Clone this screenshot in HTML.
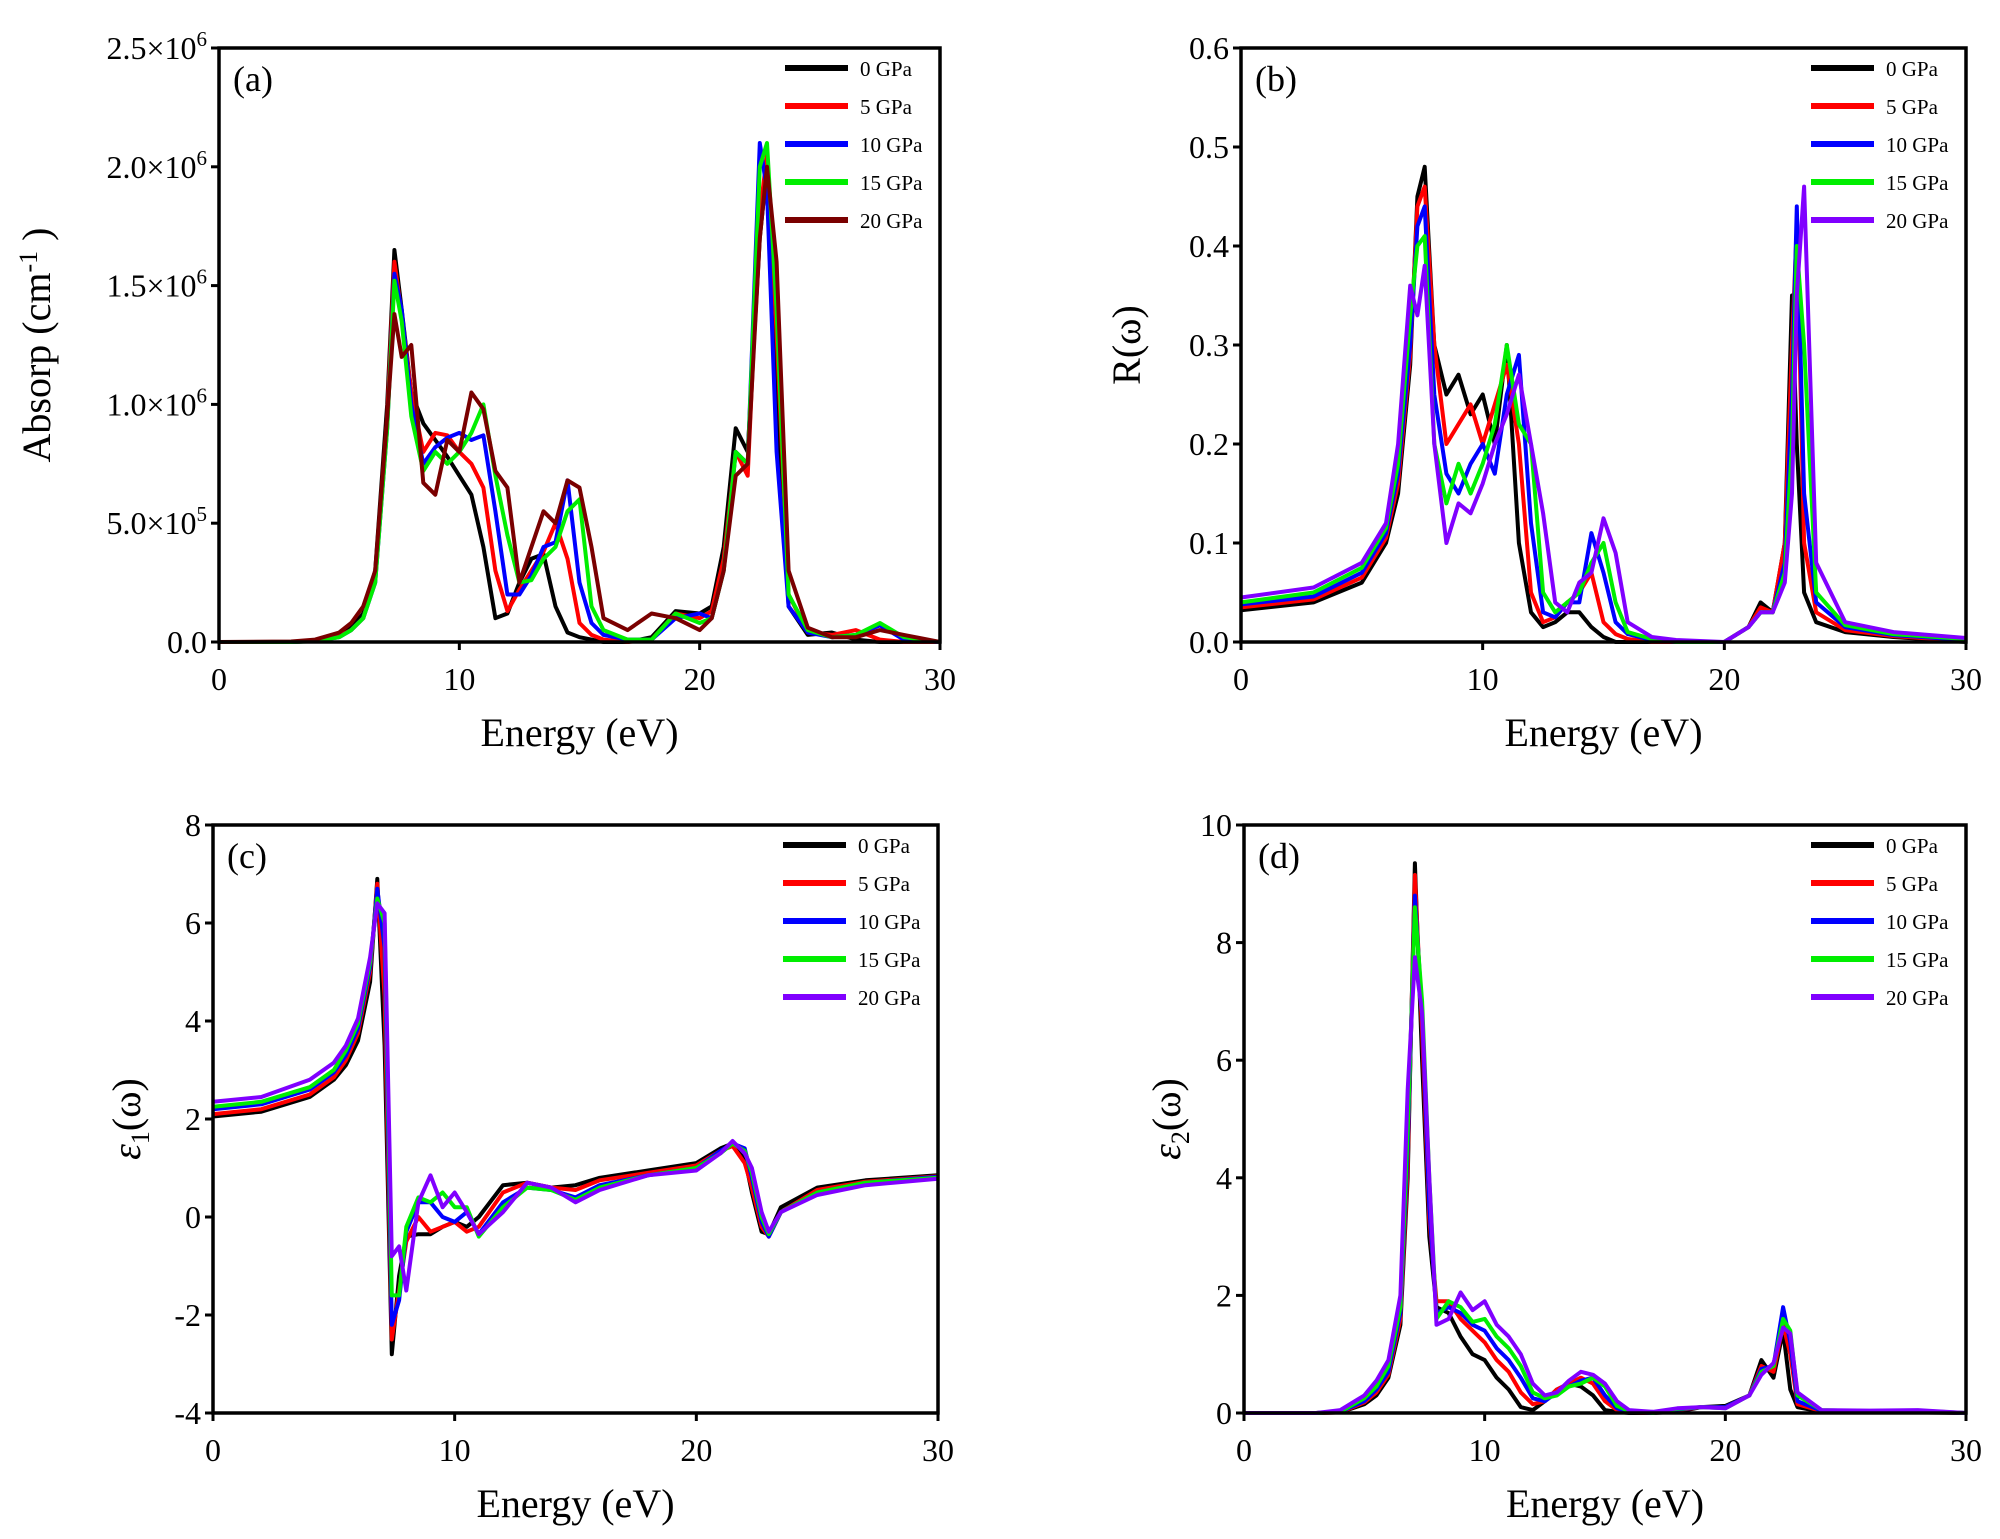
<!DOCTYPE html>
<html><head><meta charset="utf-8">
<style>
body{margin:0;background:#fff;}
svg{display:block;font-family:"Liberation Serif",serif;}
</style></head>
<body>
<svg id="fig" width="2000" height="1539" viewBox="0 0 2000 1539" xmlns="http://www.w3.org/2000/svg"></svg>
<script>
// ---- shared data ----
const legendA = ["0 GPa","5 GPa","10 GPa","15 GPa","20 GPa"];
const colorsA = ["#000000","#ff0000","#0000ff","#00ee00","#7a0000"];
const colorsB = ["#000000","#ff0000","#0000ff","#00ee00","#8000ff"];
const xTicks = [0,10,20,30];

// (a) absorption, units of 1e6 cm^-1
const energyA = [0,3,4,5,5.5,6,6.5,7,7.3,7.6,8,8.5,9,9.5,10,10.5,11,11.5,12,12.5,13,13.5,14,14.5,15,15.5,16,17,18,19,20,20.5,21,21.5,22,22.5,22.8,23.2,23.7,24.5,25.5,26.5,27.5,28.5,30];
const absorp0  = [0,0,0.005,0.03,0.06,0.12,0.3,1.0,1.65,1.4,1.05,0.92,0.85,0.78,0.7,0.62,0.4,0.1,0.12,0.25,0.35,0.37,0.15,0.04,0.02,0.01,0,0,0.02,0.13,0.12,0.15,0.4,0.9,0.8,1.7,2.0,1.0,0.15,0.03,0.04,0.01,0,0,0];
const absorp5  = [0,0,0.004,0.025,0.05,0.1,0.27,0.95,1.6,1.38,1.05,0.8,0.88,0.87,0.8,0.75,0.65,0.3,0.13,0.22,0.3,0.38,0.5,0.35,0.08,0.03,0.01,0,0.01,0.12,0.1,0.13,0.35,0.8,0.7,1.8,2.05,1.3,0.2,0.04,0.03,0.05,0.01,0,0];
const absorp10 = [0,0,0.004,0.02,0.05,0.1,0.25,0.9,1.55,1.4,1.0,0.75,0.82,0.86,0.88,0.85,0.87,0.55,0.2,0.2,0.28,0.4,0.42,0.68,0.25,0.08,0.03,0.01,0.01,0.1,0.12,0.1,0.3,0.8,0.75,2.1,1.9,0.8,0.15,0.04,0.02,0.03,0.07,0.01,0];
const absorp15 = [0,0,0.003,0.02,0.05,0.1,0.25,0.9,1.52,1.35,0.95,0.72,0.8,0.75,0.8,0.88,1.0,0.7,0.45,0.25,0.26,0.35,0.4,0.55,0.6,0.15,0.05,0.01,0.01,0.12,0.08,0.1,0.3,0.8,0.75,2.0,2.1,1.4,0.2,0.05,0.02,0.03,0.08,0.02,0];
const absorp20 = [0,0.002,0.01,0.04,0.08,0.15,0.3,0.95,1.38,1.2,1.25,0.67,0.62,0.85,0.8,1.05,0.98,0.72,0.65,0.25,0.4,0.55,0.5,0.68,0.65,0.4,0.1,0.05,0.12,0.1,0.05,0.1,0.3,0.7,0.75,1.7,2.0,1.6,0.3,0.06,0.02,0.02,0.05,0.03,0];

// (b) reflectivity
const energyB = [0,3,5,6,6.5,7,7.3,7.6,8,8.5,9,9.5,10,10.5,11,11.5,12,12.5,13,13.5,14,14.5,15,15.5,16,17,18,20,21,21.5,22,22.5,22.8,23,23.3,23.8,25,27,30];
const refl0  = [0.032,0.04,0.06,0.1,0.15,0.28,0.45,0.48,0.3,0.25,0.27,0.23,0.25,0.2,0.3,0.1,0.03,0.015,0.02,0.03,0.03,0.015,0.005,0,0,0,0,0,0.015,0.04,0.03,0.1,0.35,0.2,0.05,0.02,0.01,0.005,0];
const refl5  = [0.035,0.043,0.065,0.105,0.16,0.29,0.44,0.46,0.3,0.2,0.22,0.24,0.2,0.24,0.28,0.2,0.05,0.02,0.025,0.04,0.05,0.07,0.02,0.008,0.003,0,0,0,0.015,0.035,0.03,0.1,0.3,0.42,0.1,0.03,0.012,0.006,0.001];
const refl10 = [0.038,0.046,0.07,0.11,0.17,0.3,0.42,0.44,0.25,0.17,0.15,0.18,0.2,0.17,0.25,0.29,0.12,0.03,0.025,0.04,0.04,0.11,0.07,0.02,0.008,0.002,0,0,0.015,0.03,0.03,0.08,0.25,0.44,0.15,0.04,0.015,0.007,0.002];
const refl15 = [0.04,0.05,0.075,0.115,0.18,0.33,0.4,0.41,0.2,0.14,0.18,0.15,0.18,0.22,0.3,0.22,0.2,0.05,0.03,0.04,0.05,0.08,0.1,0.04,0.01,0.003,0,0,0.015,0.03,0.03,0.07,0.2,0.4,0.3,0.05,0.017,0.008,0.003];
const refl20 = [0.045,0.055,0.08,0.12,0.2,0.36,0.33,0.38,0.2,0.1,0.14,0.13,0.16,0.2,0.23,0.27,0.2,0.13,0.04,0.03,0.06,0.07,0.125,0.09,0.02,0.005,0.002,0,0.015,0.03,0.03,0.06,0.15,0.35,0.46,0.08,0.02,0.01,0.004];

// (c) eps1
const energyC = [0,2,4,5,5.5,6,6.5,6.8,7.1,7.4,7.7,8,8.5,9,9.5,10,10.5,11,12,13,14,15,16,18,20,21,21.5,22,22.3,22.7,23,23.5,25,27,30];
const eps1_0  = [2.05,2.15,2.45,2.8,3.1,3.6,4.8,6.9,3.5,-2.8,-1.2,-0.4,-0.35,-0.35,-0.2,-0.1,-0.2,0,0.65,0.7,0.6,0.65,0.8,0.95,1.1,1.4,1.5,1.2,0.5,-0.3,-0.35,0.2,0.6,0.75,0.85];
const eps1_5  = [2.1,2.2,2.5,2.85,3.2,3.75,5,6.8,4.5,-2.5,-1.5,-0.5,0,-0.3,-0.2,-0.1,-0.3,-0.2,0.5,0.7,0.6,0.55,0.75,0.9,1.05,1.35,1.45,1.1,0.6,-0.2,-0.4,0.1,0.55,0.72,0.83];
const eps1_10 = [2.2,2.3,2.6,2.95,3.3,3.85,5.1,6.7,5.5,-2.2,-1.7,-0.3,0.3,0.3,0,-0.1,0.1,-0.35,0.3,0.6,0.55,0.4,0.65,0.85,1.0,1.35,1.5,1.4,0.8,-0.1,-0.4,0.1,0.5,0.7,0.82];
const eps1_15 = [2.25,2.35,2.65,3.0,3.4,3.95,5.2,6.5,6.0,-1.6,-1.6,-0.2,0.4,0.3,0.5,0.2,0.2,-0.4,0.2,0.6,0.55,0.35,0.6,0.85,1.0,1.3,1.5,1.35,0.9,0,-0.35,0.1,0.5,0.7,0.8];
const eps1_20 = [2.35,2.45,2.8,3.15,3.5,4.05,5.3,6.4,6.2,-0.8,-0.6,-1.5,0.3,0.85,0.2,0.5,0.1,-0.35,0.1,0.7,0.6,0.3,0.55,0.85,0.95,1.3,1.55,1.3,1.0,0.1,-0.3,0.1,0.45,0.65,0.78];

// (d) eps2
const energyD = [0,3,4,5,5.5,6,6.5,6.8,7.1,7.4,7.7,8,8.5,9,9.5,10,10.5,11,11.5,12,12.5,13,13.5,14,14.5,15,15.5,16,17,18,19,20,21,21.5,22,22.4,22.7,23,24,26,28,30];
const eps2_0  = [0,0,0.01,0.15,0.3,0.6,1.5,4,9.35,6,3,1.8,1.7,1.3,1.0,0.9,0.6,0.4,0.1,0.05,0.2,0.4,0.5,0.45,0.3,0.05,0.02,0,0,0.02,0.1,0.12,0.3,0.9,0.6,1.4,0.4,0.1,0.02,0.02,0.01,0];
const eps2_5  = [0,0,0.01,0.18,0.35,0.65,1.6,4.2,9.15,6.5,3.3,1.9,1.9,1.6,1.4,1.2,0.9,0.7,0.35,0.15,0.2,0.4,0.5,0.6,0.5,0.2,0.05,0.01,0,0.05,0.1,0.1,0.3,0.8,0.7,1.5,1.0,0.15,0.03,0.03,0.02,0];
const eps2_10 = [0,0,0.02,0.2,0.4,0.7,1.7,4.5,8.8,6.8,3.5,1.7,1.8,1.7,1.5,1.4,1.1,0.9,0.6,0.25,0.2,0.35,0.45,0.55,0.6,0.3,0.08,0.02,0,0.06,0.1,0.1,0.3,0.75,0.8,1.8,1.2,0.2,0.04,0.03,0.02,0];
const eps2_15 = [0,0,0.02,0.25,0.45,0.8,1.8,4.8,8.6,7.0,4.0,1.6,1.9,1.8,1.55,1.6,1.3,1.1,0.8,0.35,0.25,0.3,0.45,0.5,0.6,0.45,0.12,0.03,0,0.07,0.1,0.08,0.3,0.7,0.8,1.6,1.4,0.3,0.05,0.03,0.04,0];
const eps2_20 = [0,0,0.05,0.3,0.55,0.9,2.0,5.5,7.75,6.8,4.0,1.5,1.6,2.05,1.75,1.9,1.5,1.3,1.0,0.5,0.3,0.35,0.55,0.7,0.65,0.5,0.2,0.05,0.02,0.08,0.1,0.08,0.3,0.65,0.85,1.45,1.35,0.35,0.05,0.04,0.05,0];

const ticksA = [0,0.5,1.0,1.5,2.0,2.5];
const ticksB = [0,0.1,0.2,0.3,0.4,0.5,0.6];
const ticksC = [-4,-2,0,2,4,6,8];
const ticksD = [0,2,4,6,8,10];

const NS="http://www.w3.org/2000/svg";
const svg=document.getElementById('fig');
function mk(tag,attrs,parent){const e=document.createElementNS(NS,tag);for(const k in attrs)e.setAttribute(k,attrs[k]);(parent||svg).appendChild(e);return e;}

function panel(cfg){
  const g=mk('g',{});
  
  
  const {x0,x1,y0,y1,ymin,ymax}=cfg;
  const sx=v=>x0+(v-0)/(30-0)*(x1-x0);
  const sy=v=>y1-(v-ymin)/(ymax-ymin)*(y1-y0);
  cfg.series.forEach((ys,i)=>{
    let d='';
    ys.forEach((v,j)=>{d+=(j?'L':'M')+sx(cfg.energy[j]).toFixed(1)+','+sy(v).toFixed(1);});
    const p=mk('path',{d:d,fill:'none',stroke:cfg.colors[i],'stroke-width':4,'stroke-linejoin':'round'},g);
    
    
  });
  const fr=mk('rect',{x:x0,y:y0,width:x1-x0,height:y1-y0,fill:'none',stroke:'#000','stroke-width':3.5},g);
  
  
  xTicks.forEach(t=>{
    const X=sx(t);
    mk('line',{x1:X,x2:X,y1:y1,y2:y1+8,stroke:'#000','stroke-width':3},g);
    const tx=mk('text',{x:X,y:y1+48,'font-size':32,'text-anchor':'middle'},g);
    tx.textContent=t;
    
    
  });
  cfg.yticks.forEach((t,k)=>{
    const Y=sy(t);
    mk('line',{x1:x0-8,x2:x0,y1:Y,y2:Y,stroke:'#000','stroke-width':3},g);
    const tx=mk('text',{x:x0-12,y:Y+11,'font-size':32,'text-anchor':'end'},g);
    
    
    if(cfg.sci){
      if(t===0){tx.textContent='0.0';}
      else{
        const m=(t>=1?t:t*10).toFixed(1), e=(t>=1?6:5);
        tx.textContent=m+'\u00d710';
        const s=mk('tspan',{dy:-13,'font-size':21},tx);s.textContent=e;
      }
    } else tx.textContent=cfg.fmt(t);
  });
  const pl=mk('text',{x:x0+14,y:y0+43,'font-size':36},g);
  pl.textContent=cfg.label;
  
  
  legendA.forEach((L,i)=>{
    const Y=y0+20+i*38;
    const lg=mk('g',{},g);
    
    
    mk('line',{x1:x1-155,x2:x1-92,y1:Y,y2:Y,stroke:cfg.colors[i],'stroke-width':6},lg);
    const t=mk('text',{x:x1-80,y:Y+8,'font-size':21},lg);t.textContent=L;
  });
  const xt=mk('text',{x:(x0+x1)/2,y:y1+104,'font-size':40,'text-anchor':'middle'},g);
  xt.textContent='Energy (eV)';
  
  
  const cy=(y0+y1)/2;
  const yt=mk('text',{x:cfg.ytx,y:cy,'font-size':40,'text-anchor':'middle',transform:`rotate(-90 ${cfg.ytx} ${cy})`},g);
  
  
  cfg.ytitle(yt);
}

panel({name:'panel-a-absorption',x0:219,x1:940,y0:48,y1:642,ymin:0,ymax:2.5,energy:energyA,
  series:[absorp0,absorp5,absorp10,absorp15,absorp20],colors:colorsA,yticks:ticksA,sci:true,label:'(a)',ytx:50,
  ytitle:t=>{t.textContent='Absorp (cm';const s=mk('tspan',{dy:-13,'font-size':26},t);s.textContent='-1';const s2=mk('tspan',{dy:13},t);s2.textContent=' )';}});
panel({name:'panel-b-reflectivity',x0:1241,x1:1966,y0:48,y1:642,ymin:0,ymax:0.6,energy:energyB,
  series:[refl0,refl5,refl10,refl15,refl20],colors:colorsB,yticks:ticksB,fmt:t=>t.toFixed(1),label:'(b)',ytx:1140,
  ytitle:t=>{t.textContent='R(\u03c9)';}});
panel({name:'panel-c-eps1',x0:213,x1:938,y0:825,y1:1413,ymin:-4,ymax:8,energy:energyC,
  series:[eps1_0,eps1_5,eps1_10,eps1_15,eps1_20],colors:colorsB,yticks:ticksC,fmt:t=>String(t),label:'(c)',ytx:140,
  ytitle:t=>{const a=mk('tspan',{'font-style':'italic'},t);a.textContent='\u03b5';const s=mk('tspan',{dy:9,'font-size':26},t);s.textContent='1';const b=mk('tspan',{dy:-9},t);b.textContent='(\u03c9)';}});
panel({name:'panel-d-eps2',x0:1244,x1:1966,y0:825,y1:1413,ymin:0,ymax:10,energy:energyD,
  series:[eps2_0,eps2_5,eps2_10,eps2_15,eps2_20],colors:colorsB,yticks:ticksD,fmt:t=>String(t),label:'(d)',ytx:1180,
  ytitle:t=>{const a=mk('tspan',{'font-style':'italic'},t);a.textContent='\u03b5';const s=mk('tspan',{dy:9,'font-size':26},t);s.textContent='2';const b=mk('tspan',{dy:-9},t);b.textContent='(\u03c9)';}});
</script>
</body></html>
